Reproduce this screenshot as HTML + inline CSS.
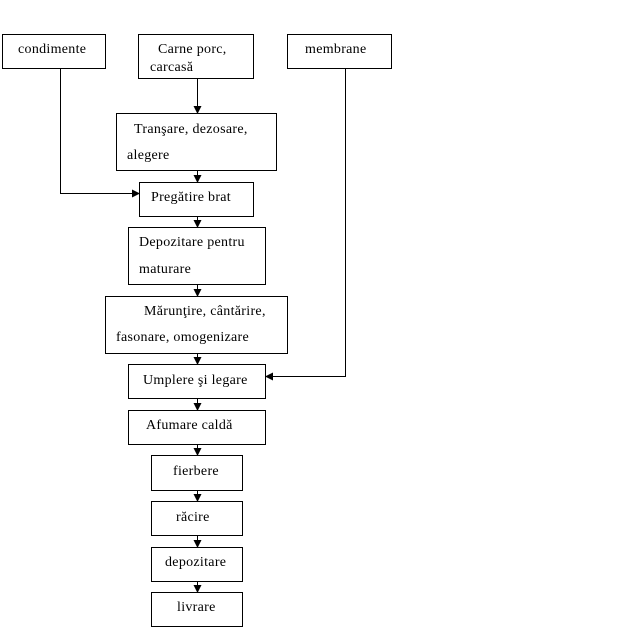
<!DOCTYPE html>
<html><head><meta charset="utf-8"><style>
html,body{margin:0;padding:0;background:#fff;}
svg{display:block;}
text{font-family:"Liberation Serif",serif;font-size:14px;letter-spacing:0.3px;fill:#000;}
</style></head><body>
<svg width="641" height="638" viewBox="0 0 641 638" xmlns="http://www.w3.org/2000/svg">
<defs><marker id="a" markerWidth="8" markerHeight="8" refX="7" refY="4" orient="auto" markerUnits="userSpaceOnUse"><path d="M0,0 L8,4 L0,8 z" fill="#000"/></marker></defs>
<g fill="none" stroke="#000" stroke-width="1">
<rect x="2.5" y="34.5" width="103" height="34"/>
<rect x="138.5" y="34.5" width="115" height="44"/>
<rect x="287.5" y="34.5" width="104" height="34"/>
<rect x="116.5" y="113.5" width="160" height="57"/>
<rect x="139.5" y="182.5" width="114" height="34"/>
<rect x="128.5" y="227.5" width="137" height="57"/>
<rect x="105.5" y="296.5" width="182" height="57"/>
<rect x="128.5" y="364.5" width="137" height="34"/>
<rect x="128.5" y="410.5" width="137" height="34"/>
<rect x="151.5" y="455.5" width="91" height="35"/>
<rect x="151.5" y="501.5" width="91" height="34"/>
<rect x="151.5" y="547.5" width="91" height="34"/>
<rect x="151.5" y="592.5" width="91" height="34"/>
<path d="M197.5,78 V113" marker-end="url(#a)"/>
<path d="M197.5,171 V182" marker-end="url(#a)"/>
<path d="M197.5,217 V227" marker-end="url(#a)"/>
<path d="M197.5,285 V296" marker-end="url(#a)"/>
<path d="M197.5,354 V364" marker-end="url(#a)"/>
<path d="M197.5,399 V410" marker-end="url(#a)"/>
<path d="M197.5,445 V455" marker-end="url(#a)"/>
<path d="M197.5,491 V501" marker-end="url(#a)"/>
<path d="M197.5,536 V547" marker-end="url(#a)"/>
<path d="M197.5,582 V592" marker-end="url(#a)"/>
<path d="M60.5,69 V193.5 H139" marker-end="url(#a)"/>
<path d="M345.5,69 V376.5 H266" marker-end="url(#a)"/>
</g>
<text x="18" y="53">condimente</text>
<text x="158" y="53">Carne porc,</text>
<text x="150" y="71">carcasă</text>
<text x="305" y="53">membrane</text>
<text x="134" y="133">Tranşare, dezosare,</text>
<text x="127" y="159">alegere</text>
<text x="151" y="201">Pregătire brat</text>
<text x="139" y="246">Depozitare pentru</text>
<text x="139" y="273">maturare</text>
<text x="144" y="315">Mărunţire, cântărire,</text>
<text x="116" y="341">fasonare, omogenizare</text>
<text x="143" y="384">Umplere şi legare</text>
<text x="146" y="429">Afumare caldă</text>
<text x="173" y="475">fierbere</text>
<text x="176" y="521">răcire</text>
<text x="165" y="566">depozitare</text>
<text x="177" y="611">livrare</text>
</svg>
</body></html>
